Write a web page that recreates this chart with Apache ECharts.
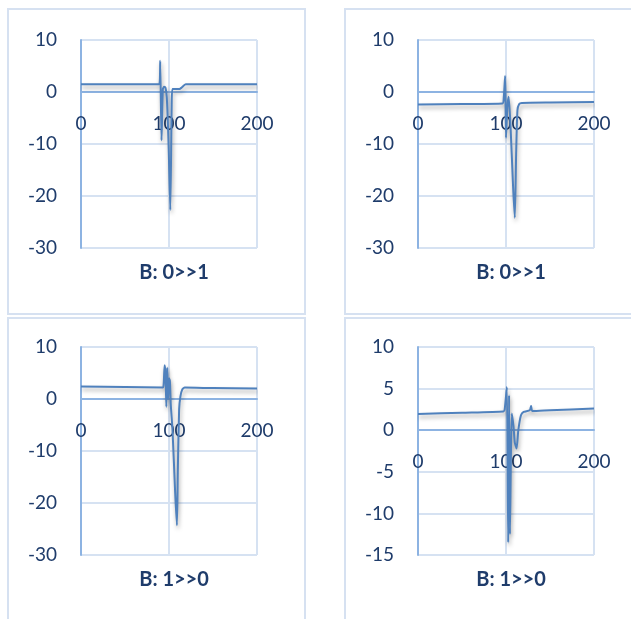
<!DOCTYPE html>
<html><head><meta charset="utf-8">
<script src="https://cdn.jsdelivr.net/npm/echarts@6/dist/echarts.min.js"></script>
<style>html,body{margin:0;padding:0;background:#fff}#c{width:631px;height:619px}</style>
</head><body><div id="c"></div>
<script>
// Panel titles
const titles = ["B: 0>>1", "B: 0>>1", "B: 1>>0", "B: 1>>0"];
// Panel 1 (top-left)
const x1 = [0, 50, 89, 90, 91.5, 93, 94.5, 96, 97.5, 99.5, 101.5, 103, 104, 112, 114, 119, 150, 200];
const y1 = [1.5, 1.5, 1.5, 6, -9.3, 0.6, 1, 0.8, -1, -10, -22.7, -3, 0.6, 0.6, 0.8, 1.5, 1.5, 1.5];
// Panel 2 (top-right)
const x2 = [0, 50, 96, 97.5, 99, 100, 101.5, 103, 105, 108, 110, 111.5, 113, 115, 118, 150, 200];
const y2 = [-2.4, -2.3, -2.2, -1, 3.1, -8.8, -3, -0.9, -6, -18, -24.2, -12, -3.5, -2.3, -2.1, -2.0, -1.9];
// Panel 3 (bottom-left)
const x3 = [0, 50, 93, 94, 95, 96, 97, 98, 99, 100, 101, 102, 104, 107, 109, 110, 111.5, 113, 115, 118, 150, 200];
const y3 = [2.4, 2.3, 2.2, 3, 6.5, 5, -1.5, 6, 0, 4, 3.5, -1, -6, -18, -24.3, -14, -2, 0.5, 1.8, 2.2, 2.1, 2.0];
// Panel 4 (bottom-right)
const x4 = [0, 50, 97, 98.5, 101, 102.5, 103.5, 104.5, 106.5, 108.5, 110, 112, 114, 117, 120, 127, 128.5, 130, 150, 200];
const y4 = [1.95, 2.1, 2.25, 2.5, 5.2, -13.5, 4.2, -12.5, 2, 0.5, -1.5, -2.2, 0, 1.8, 2.2, 2.4, 2.9, 2.3, 2.4, 2.6];
// Y axis settings per panel
const yMin = [-30, -30, -30, -15];
const yMax = [10, 10, 10, 10];
const yInt = [10, 10, 10, 5];

const xs = [x1, x2, x3, x4];
const ys = [y1, y2, y3, y4];
const lefts = [81, 418, 81, 418];
const tops = [40, 40, 347, 347];
const gridH = 208;
const titleTops = [258, 258, 565, 565];

const labelColor = '#1f3c6b';
const font = 'Lato, "Open Sans", sans-serif';
const chart = echarts.init(document.getElementById('c'));
const grid = [], xAxis = [], yAxis = [], series = [], title = [];
for (let i = 0; i < 4; i++) {
  grid.push({left: lefts[i], top: tops[i], width: 176, height: gridH});
  // distance from grid bottom up to the value 0
  const zeroOffset = -gridH * (0 - yMin[i]) / (yMax[i] - yMin[i]);
  xAxis.push({
    type: 'value', gridIndex: i, min: 0, max: 200, interval: 100,
    position: 'bottom', offset: zeroOffset,
    axisLine: {onZero: false, lineStyle: {color: '#8db3e2', width: 2}},
    axisTick: {show: false},
    splitLine: {show: true, lineStyle: {color: '#d6e2f2', width: 2}},
    axisLabel: {color: labelColor, fontSize: 19, fontFamily: font, margin: 22}
  });
  yAxis.push({
    type: 'value', gridIndex: i, min: yMin[i], max: yMax[i], interval: yInt[i],
    axisLine: {show: true, onZero: false, lineStyle: {color: '#8db3e2', width: 2}},
    axisTick: {show: false},
    splitLine: {show: true, lineStyle: {color: '#d6e2f2', width: 2}},
    axisLabel: {color: labelColor, fontSize: 19, fontFamily: font, margin: 24}
  });
  series.push({
    type: 'line', xAxisIndex: i, yAxisIndex: i,
    data: xs[i].map((x, k) => [x, ys[i][k]]),
    showSymbol: false, smooth: 0.2, animation: false,
    lineStyle: {color: '#4f81bd', width: 2, shadowColor: 'rgba(0,0,0,0.35)', shadowBlur: 4, shadowOffsetY: 3, shadowOffsetX: 1}
  });
  title.push({
    text: titles[i], left: lefts[i] + 88, top: titleTops[i], textAlign: 'center',
    textStyle: {color: labelColor, fontSize: 20, fontWeight: 'bold', fontFamily: font}
  });
}
chart.setOption({
  animation: false,
  title, grid, xAxis, yAxis, series,
  graphic: [
    {type: 'rect', shape: {x: 8, y: 9, width: 297, height: 305}, style: {fill: 'none', stroke: '#d6e1f1', lineWidth: 2}, z: -1},
    {type: 'rect', shape: {x: 345, y: 9, width: 300, height: 305}, style: {fill: 'none', stroke: '#d6e1f1', lineWidth: 2}, z: -1},
    {type: 'rect', shape: {x: 8, y: 318, width: 297, height: 310}, style: {fill: 'none', stroke: '#d6e1f1', lineWidth: 2}, z: -1},
    {type: 'rect', shape: {x: 345, y: 318, width: 300, height: 310}, style: {fill: 'none', stroke: '#d6e1f1', lineWidth: 2}, z: -1}
  ]
});
</script></body></html>
